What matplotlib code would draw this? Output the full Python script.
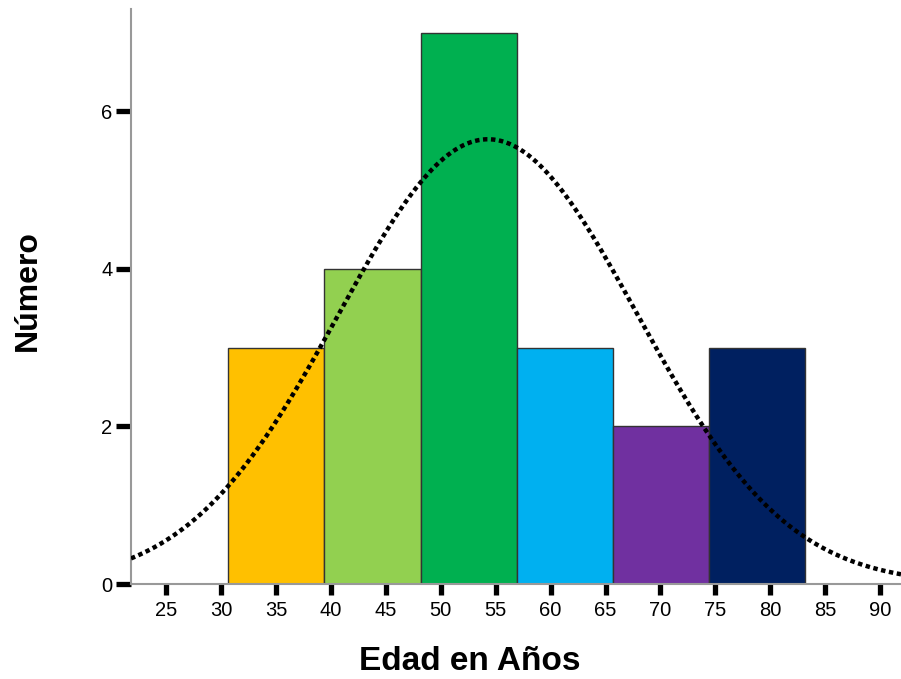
import numpy as np
import matplotlib.pyplot as plt

# histogram bins (edges) and counts
bin_edges = [30.66, 39.41, 48.16, 56.91, 65.66, 74.41, 83.16]
counts = [3, 4, 7, 3, 2, 3]
bar_colors = ['#FFC000', '#92D050', '#00B050', '#00B0F0', '#7030A0', '#002060']

# fitted normal curve parameters
mean_age = 54.3
sd_age = 13.6
n_total = sum(counts)

x_ticks = [25, 30, 35, 40, 45, 50, 55, 60, 65, 70, 75, 80, 85, 90]
y_ticks = [0, 2, 4, 6]

plt.rcParams['font.family'] = ['Liberation Sans', 'DejaVu Sans']

fig = plt.figure(figsize=(9.01, 6.79), dpi=100)
ax = fig.add_axes([0.1454, 0.1399, 0.8546, 0.8468])

widths = np.diff(bin_edges)
ax.bar(bin_edges[:-1], counts, width=widths, align='edge', color=bar_colors,
       edgecolor='#333333', linewidth=1.0, zorder=2)

# normal curve scaled to the histogram
bw = widths.mean()
xs = np.linspace(21.8, 91.9, 400)
ys = n_total * bw / (sd_age * np.sqrt(2 * np.pi)) * np.exp(-0.5 * ((xs - mean_age) / sd_age) ** 2)
ax.plot(xs, ys, color='black', linestyle=(0, (1.0, 0.8)), linewidth=3.2, zorder=3)

ax.set_xlim(21.8, 91.9)
ax.set_ylim(0, 7.3)
ax.set_xticks(x_ticks)
ax.set_yticks(y_ticks)
ax.tick_params(axis='both', direction='out', width=3.8, color='black', labelsize=14.5)
ax.tick_params(axis='x', length=8, pad=4)
ax.tick_params(axis='y', length=10.5, pad=3)

for side in ['top', 'right']:
    ax.spines[side].set_visible(False)
for side in ['left', 'bottom']:
    ax.spines[side].set_color('#999999')
    ax.spines[side].set_linewidth(1.5)

ax.set_xlabel('Edad en Años', fontsize=24, fontweight='bold', va='center')
ax.xaxis.set_label_coords(0.44, -0.134)
ax.set_ylabel('Número', fontsize=23, fontweight='bold', va='center')
ax.yaxis.set_label_coords(-0.134, 0.511)

fig.savefig('out.png', dpi=100)
